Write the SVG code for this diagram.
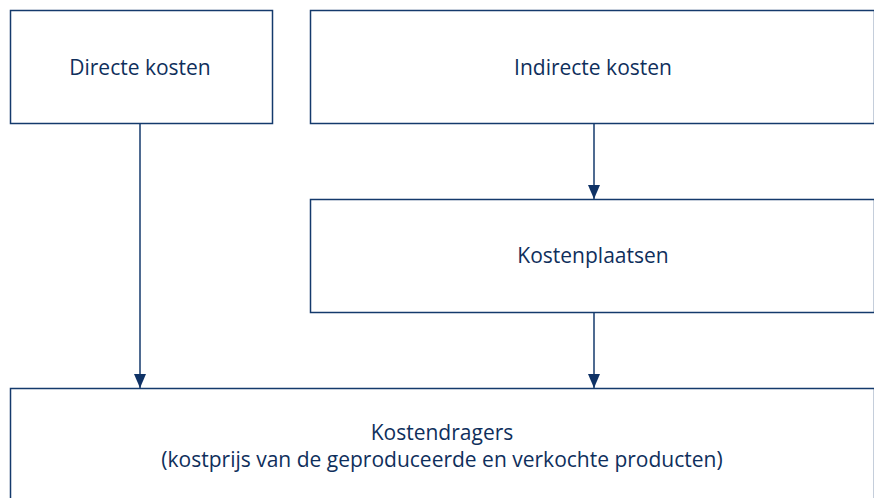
<svg xmlns="http://www.w3.org/2000/svg" width="874" height="498" viewBox="0 0 874 498">
<defs>
<style>
.box{fill:#ffffff;stroke:#143a6c;stroke-width:1.5}
.lbl{font-family:"Open Sans","Liberation Sans",sans-serif;font-size:21px;fill:#0f2f5c;text-anchor:middle}
.conn{stroke:#143a6c;stroke-width:1.5;fill:none}
</style>
<marker id="arr" viewBox="0 0 14 12" refX="14" refY="6" markerWidth="14" markerHeight="12" markerUnits="userSpaceOnUse" orient="auto">
<path d="M0,0 L14,6 L0,12 Z" fill="#0f3266"/>
</marker>
</defs>
<rect width="874" height="498" fill="#ffffff"/>
<g id="directe">
<rect class="box" x="10.5" y="10.5" width="262" height="113"/>
<text class="lbl" x="140" y="75">Directe kosten</text>
</g>
<g id="indirecte">
<rect class="box" x="310.5" y="10.5" width="564" height="113"/>
<text class="lbl" x="593" y="75">Indirecte kosten</text>
</g>
<g id="kostenplaatsen">
<rect class="box" x="310.5" y="199.5" width="564" height="113"/>
<text class="lbl" x="593" y="263">Kostenplaatsen</text>
</g>
<g id="kostendragers">
<rect class="box" x="10.5" y="388.5" width="864" height="120"/>
<text class="lbl" x="442" y="440">Kostendragers</text>
<text class="lbl" x="442" y="467">(kostprijs van de geproduceerde en verkochte producten)</text>
</g>
<g id="connectors">
<line class="conn" x1="140" y1="123" x2="140" y2="388" marker-end="url(#arr)"/>
<line class="conn" x1="594" y1="123" x2="594" y2="199" marker-end="url(#arr)"/>
<line class="conn" x1="594" y1="312" x2="594" y2="388" marker-end="url(#arr)"/>
</g>
</svg>
